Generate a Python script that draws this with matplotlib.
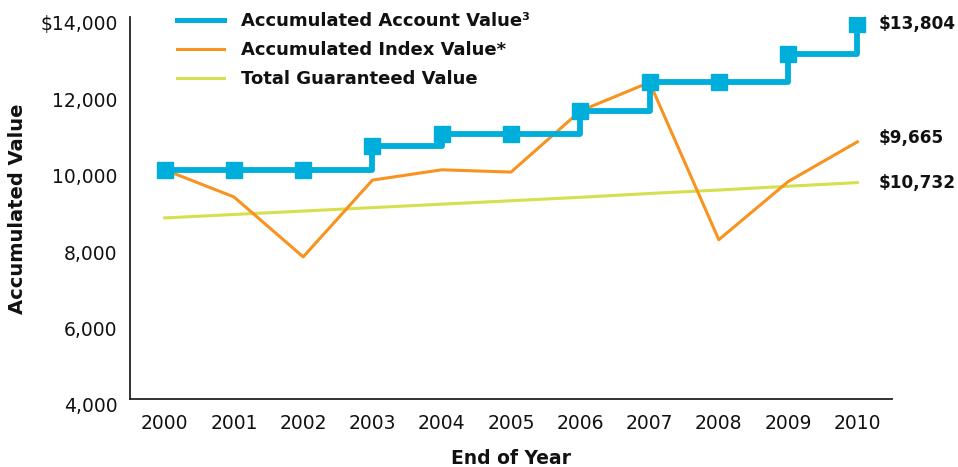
import matplotlib
matplotlib.use("Agg")
import matplotlib.pyplot as plt
import matplotlib.transforms as mtransforms

# ---- data ----
years = [2000, 2001, 2002, 2003, 2004, 2005, 2006, 2007, 2008, 2009, 2010]
account_value = [10000, 10000, 10000, 10623, 10930, 10930, 11550, 12295, 12295, 13020, 13804]
index_value = [10000, 9290, 7720, 9730, 10000, 9940, 11540, 12290, 8170, 9690, 10732]
guaranteed_value = [8740, 8830, 8920, 9010, 9100, 9190, 9280, 9380, 9470, 9570, 9665]
series_labels = ["Accumulated Account Value³", "Accumulated Index Value*", "Total Guaranteed Value"]
end_labels = ["$13,804", "$9,665", "$10,732"]
y_ticks = [4000, 6000, 8000, 10000, 12000, 14000]
y_tick_labels = ["4,000", "6,000", "8,000", "10,000", "12,000", "$14,000"]

BLUE = "#00AEDB"
ORANGE = "#F7931E"
GREEN = "#D5E04F"

plt.rcParams['font.family'] = ['DejaVu Sans']

fig = plt.figure(figsize=(9.58, 4.67), dpi=100)
ax = fig.add_axes([130/958, 1-399/467, (892-130)/958, (399-17)/467])

ax.plot(years, guaranteed_value, color=GREEN, lw=2.2, label=series_labels[2], zorder=2)
ax.plot(years, index_value, color=ORANGE, lw=2.2, label=series_labels[1], zorder=3)
ax.step(years, account_value, where='post', color=BLUE, lw=4.2, label=series_labels[0], zorder=4)
ax.plot(years, account_value, ls='none', marker='s', ms=11.5, color=BLUE, zorder=5)

ax.set_xlim(1999.5, 2010.5)
ax.set_ylim(4000, 14000)
ax.set_xticks(years)
ax.set_xticklabels([str(y) for y in years], fontsize=13.5, color='#111111')
ax.set_yticks(y_ticks)
ax.set_yticklabels(y_tick_labels, fontsize=13.5, color='#111111')
ax.tick_params(axis='both', length=0)
ax.tick_params(axis='x', pad=11)
ax.tick_params(axis='y', pad=9)
offset = mtransforms.ScaledTranslation(0, -6/100, fig.dpi_scale_trans)
for lab in ax.get_yticklabels():
    lab.set_transform(lab.get_transform() + offset)

for s in ['top', 'right']:
    ax.spines[s].set_visible(False)
for s in ['left', 'bottom']:
    ax.spines[s].set_color('#222222')
    ax.spines[s].set_linewidth(1.3)

# end labels
ends = [account_value[-1], index_value[-1], guaranteed_value[-1]]
dys = [0, 4, 0]
for txt, val, dy in zip(end_labels, ends, dys):
    ax.annotate(txt, xy=(years[-1], val), xytext=(15, dy*0.72), textcoords='offset points',
                ha='left', va='center', fontsize=12.2, fontweight='bold', color='#111111',
                annotation_clip=False)

fig.text(18/958, 1-209/467, "Accumulated Value", rotation=90, ha='center', va='center',
         fontsize=14, fontweight='bold', color='#111111')
fig.text(511/958, 1-458/467, "End of Year", ha='center', va='center',
         fontsize=13.5, fontweight='bold', color='#111111')

handles, labels = ax.get_legend_handles_labels()
order = [labels.index(l) for l in series_labels]
leg = ax.legend([handles[i] for i in order], [labels[i] for i in order],
                loc='upper left', bbox_to_anchor=(177/958, 1-12/467), bbox_transform=fig.transFigure,
                frameon=False, borderpad=0, borderaxespad=0, handlelength=2.6, handletextpad=0.95,
                labelspacing=0.62, prop={'weight': 'bold', 'size': 13})
for t in leg.get_texts():
    t.set_color('#111111')
leg.get_lines()[0].set_linewidth(3.6)

fig.savefig("out.png", dpi=100)
